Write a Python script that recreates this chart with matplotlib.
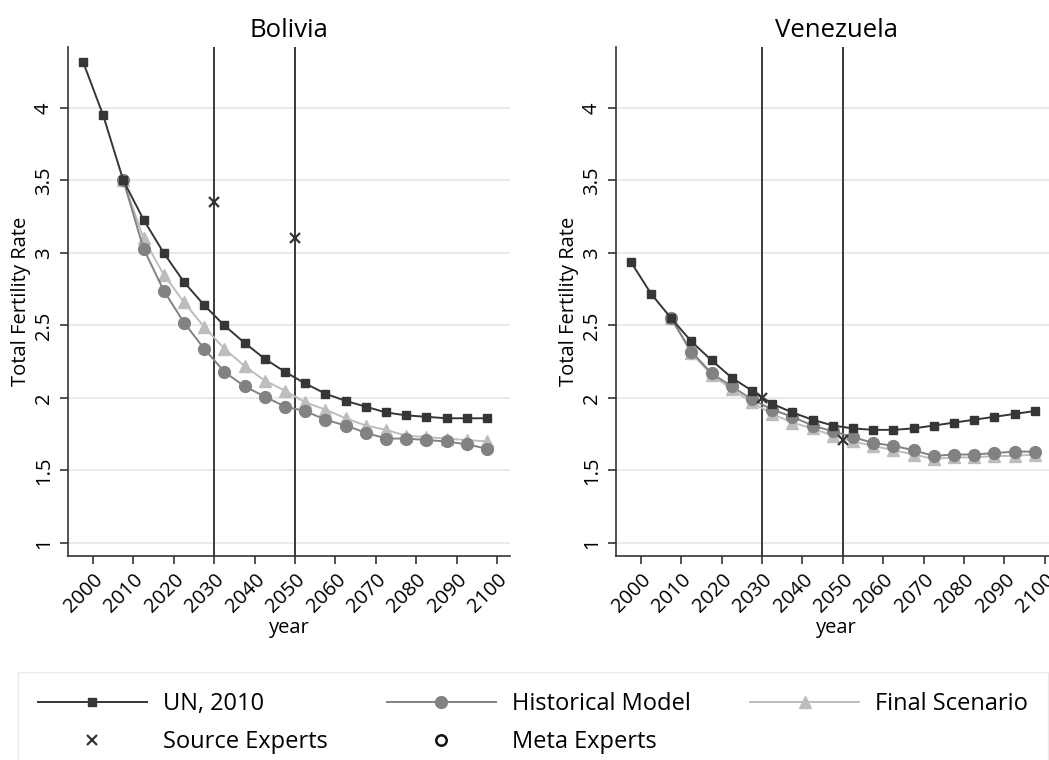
import matplotlib
matplotlib.use("Agg")
import matplotlib.pyplot as plt

plt.rcParams["font.family"] = ["Open Sans", "DejaVu Sans"]

# 5-year period midpoints
years = [1997.5, 2002.5, 2007.5, 2012.5, 2017.5, 2022.5, 2027.5, 2032.5,
         2037.5, 2042.5, 2047.5, 2052.5, 2057.5, 2062.5, 2067.5, 2072.5,
         2077.5, 2082.5, 2087.5, 2092.5, 2097.5]
proj_years = years[2:]

bol_un = [4.32, 3.95, 3.50, 3.23, 3.00, 2.80, 2.64, 2.50, 2.38, 2.27, 2.18,
          2.10, 2.03, 1.98, 1.94, 1.90, 1.88, 1.87, 1.86, 1.86, 1.86]
bol_hist = [3.50, 3.03, 2.74, 2.52, 2.34, 2.18, 2.08, 2.01, 1.94, 1.91, 1.85,
            1.81, 1.76, 1.72, 1.72, 1.71, 1.70, 1.68, 1.65]
bol_final = [3.50, 3.10, 2.85, 2.66, 2.49, 2.34, 2.22, 2.12, 2.05, 1.97, 1.92,
             1.86, 1.81, 1.78, 1.74, 1.73, 1.72, 1.71, 1.70]
bol_src_years = [2030, 2050]
bol_src = [3.35, 3.10]

ven_un = [2.94, 2.72, 2.55, 2.39, 2.26, 2.14, 2.05, 1.96, 1.90, 1.85, 1.81,
          1.79, 1.78, 1.78, 1.79, 1.81, 1.83, 1.85, 1.87, 1.89, 1.91]
ven_hist = [2.55, 2.32, 2.17, 2.08, 1.99, 1.92, 1.87, 1.81, 1.77, 1.73, 1.69,
            1.67, 1.64, 1.60, 1.61, 1.61, 1.62, 1.63, 1.63]
ven_final = [2.55, 2.31, 2.16, 2.06, 1.97, 1.89, 1.83, 1.79, 1.74, 1.70, 1.67,
             1.64, 1.61, 1.58, 1.59, 1.59, 1.60, 1.60, 1.61]
ven_src_years = [2030, 2050]
ven_src = [2.00, 1.71]

countries = ["Bolivia", "Venezuela"]
x_ticks = list(range(2000, 2101, 10))
y_ticks = [1, 1.5, 2, 2.5, 3, 3.5, 4]
y_labels = ["1", "1.5", "2", "2.5", "3", "3.5", "4"]

c_un = "#363636"
c_hist = "#828282"
c_final = "#bdbdbd"


def draw_panel(ax, title, un, hist, final, src_years, src):
    ax.grid(axis="y", color="#e6e6e6", linewidth=1.2)
    ax.set_axisbelow(True)
    for yr in (2030, 2050):
        ax.axvline(yr, color="#3a3a3a", linewidth=1.4, zorder=1)
    ax.plot(proj_years, final, color=c_final, marker="^", markersize=9,
            linewidth=1.4, zorder=3)
    ax.plot(proj_years, hist, color=c_hist, marker="o", markersize=8.5,
            linewidth=1.4, zorder=4)
    ax.plot(years, un, color=c_un, marker="s", markersize=6,
            linewidth=1.4, zorder=5)
    ax.plot(src_years, src, linestyle="none", marker="x", color="#333333",
            markersize=6.5, markeredgewidth=1.6, zorder=6)

    ax.set_xlim(1993.8, 2103.2)
    ax.set_ylim(0.91, 4.42)
    ax.set_xticks(x_ticks)
    ax.set_xticklabels([str(t) for t in x_ticks], rotation=45,
                       ha="right", va="top", rotation_mode="anchor",
                       fontsize=14.5)
    ax.set_yticks(y_ticks)
    ax.set_yticklabels(y_labels, rotation=90, va="center", fontsize=14.5)
    ax.tick_params(length=6, width=1.2, color="#333333", pad=4)
    for side in ("top", "right"):
        ax.spines[side].set_visible(False)
    for side in ("left", "bottom"):
        ax.spines[side].set_color("#333333")
        ax.spines[side].set_linewidth(1.2)
    ax.set_title(title, fontsize=18.5, pad=7)
    ax.set_xlabel("year", fontsize=14.5, labelpad=1)
    ax.set_ylabel("Total Fertility Rate", fontsize=14.5, labelpad=2)


fig = plt.figure(figsize=(10.49, 7.6), dpi=100)
ax1 = fig.add_axes([0.0648, 0.2684, 0.4214, 0.6697])
ax2 = fig.add_axes([0.587, 0.2684, 0.4214, 0.6697])

draw_panel(ax1, countries[0], bol_un, bol_hist, bol_final, bol_src_years, bol_src)
draw_panel(ax2, countries[1], ven_un, ven_hist, ven_final, ven_src_years, ven_src)

# legend entries (meta experts have no data in these panels)
h_un, = ax1.plot([], [], color=c_un, marker="s", markersize=6, linewidth=1.4)
h_hist, = ax1.plot([], [], color=c_hist, marker="o", markersize=8.5, linewidth=1.4)
h_final, = ax1.plot([], [], color=c_final, marker="^", markersize=9, linewidth=1.4)
h_src, = ax1.plot([], [], linestyle="none", marker="x", color="#333333",
                  markersize=6.5, markeredgewidth=1.6)
h_meta, = ax1.plot([], [], linestyle="none", marker="o", markerfacecolor="none",
                   markeredgecolor="#111111", markersize=7.5, markeredgewidth=1.8)

handles = [h_un, h_src, h_hist, h_meta, h_final]
labels = ["UN, 2010", "Source Experts", "Historical Model", "Meta Experts",
          "Final Scenario"]
leg = fig.legend(handles, labels, ncol=3, loc="upper left",
                 bbox_to_anchor=(0.0172, 0.1158), fontsize=17,
                 frameon=True, fancybox=False, handlelength=4.6,
                 handletextpad=0.7, columnspacing=2.5, borderaxespad=0.0,
                 labelspacing=0.6, borderpad=0.85)
leg.get_frame().set_edgecolor("#e6e6e6")
leg.get_frame().set_linewidth(1.0)

fig.savefig("out.png", dpi=100)
